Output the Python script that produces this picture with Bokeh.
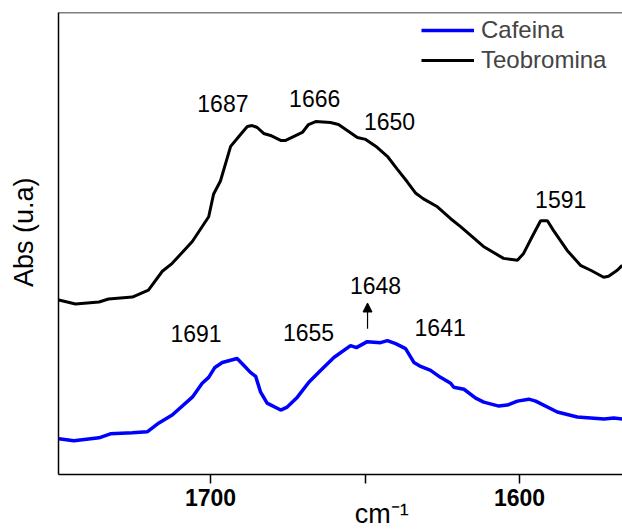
from bokeh.plotting import figure
from bokeh.models import (Range1d, FixedTicker, Span, Legend, LegendItem,
                          Arrow, NormalHead, ColumnDataSource)
from bokeh.core.properties import value
from bokeh.embed import file_html
from bokeh.resources import INLINE

# ---- data ----
teo_wn = [1749.1, 1743.7, 1736.1, 1733.0, 1725.3, 1720.1, 1715.6, 1712.4, 1705.9, 1700.6,
          1699.0, 1696.8, 1693.5, 1690.3, 1688.1, 1686.5, 1684.9, 1682.8, 1680.6, 1677.3,
          1675.7, 1670.3, 1668.3, 1666.0, 1661.2, 1658.6, 1655.3, 1652.5, 1649.8, 1646.1,
          1642.8, 1639.6, 1636.3, 1633.7, 1631.1, 1626.6, 1622.3, 1619.1, 1611.7, 1605.2,
          1600.7, 1598.7, 1595.9, 1593.2, 1591.0, 1589.0, 1584.6, 1580.3, 1577.0, 1572.8,
          1571.2, 1568.4, 1566.8]
teo_abs = [1.76, 1.72, 1.74, 1.77, 1.79, 1.86, 2.05, 2.13, 2.35, 2.60,
           2.83, 2.96, 3.31, 3.43, 3.51, 3.52, 3.50, 3.44, 3.42, 3.37,
           3.37, 3.45, 3.53, 3.56, 3.55, 3.53, 3.46, 3.40, 3.38, 3.30,
           3.21, 3.08, 2.95, 2.84, 2.78, 2.70, 2.58, 2.50, 2.30, 2.18,
           2.16, 2.23, 2.40, 2.56, 2.56, 2.46, 2.26, 2.11, 2.06, 1.99,
           2.00, 2.06, 2.11]

caf_wn = [1749.1, 1744.2, 1736.1, 1732.4, 1725.3, 1720.5, 1716.7, 1712.4, 1705.9, 1702.7,
          1700.6, 1698.6, 1696.2, 1691.4, 1689.2, 1687.1, 1685.4, 1683.8, 1681.7, 1677.3,
          1675.2, 1671.9, 1668.2, 1664.4, 1660.1, 1654.7, 1652.8, 1649.3, 1645.0, 1642.8,
          1640.1, 1636.9, 1634.2, 1632.0, 1628.8, 1625.6, 1622.3, 1621.3, 1618.0, 1614.2,
          1611.6, 1606.7, 1604.0, 1600.7, 1597.0, 1594.8, 1587.8, 1581.3, 1577.0, 1572.7,
          1569.5, 1566.8]
caf_abs = [0.36, 0.34, 0.37, 0.41, 0.42, 0.43, 0.52, 0.60, 0.78, 0.92,
           0.98, 1.08, 1.13, 1.17, 1.10, 1.03, 0.99, 0.83, 0.72, 0.65,
           0.68, 0.78, 0.93, 1.05, 1.18, 1.30, 1.28, 1.34, 1.33, 1.35,
           1.32, 1.27, 1.13, 1.09, 1.05, 0.98, 0.92, 0.88, 0.86, 0.77,
           0.73, 0.69, 0.70, 0.74, 0.76, 0.74, 0.63, 0.58, 0.57, 0.56,
           0.57, 0.56]

peak_labels = ["1687", "1666", "1650", "1591", "1648", "1655", "1641", "1691"]
peak_x = [1696.0, 1666.3, 1642.1, 1586.7, 1646.6, 1668.3, 1625.7, 1704.7]
peak_y = [3.74, 3.79, 3.56, 2.77, 1.91, 1.43, 1.48, 1.42]

arrow_x = 1649.2
arrow_y0 = 1.47
arrow_y1 = 1.73

x_ticks = [1600, 1650, 1700]
x_tick_labels = {1600: "1600", 1650: "", 1700: "1700"}

NB = "\u00a0"
x_title = NB * 11 + "cm\u207b\u00b9"
y_title = NB * 3 + "Abs (u.a)"

FONT = "Liberation Sans"
W, H = 622, 531

p = figure(width=W, height=H, output_backend="svg", toolbar_location=None,
           x_range=Range1d(1749.2, 1566.7), y_range=Range1d(0, 4.66),
           min_border_left=58, min_border_right=0, min_border_top=12, min_border_bottom=53)
p.outline_line_color = None
p.xgrid.visible = False
p.ygrid.visible = False

teo = p.line(teo_wn, teo_abs, line_color="black", line_width=3)
caf = p.line(caf_wn, caf_abs, line_color="#0000ff", line_width=3.5)

src = ColumnDataSource(dict(x=peak_x, y=peak_y, t=peak_labels))
p.text(x="x", y="y", text="t", source=src, text_font=value(FONT), text_font_size="23px",
       text_align="center", text_baseline="middle", text_color="black")

p.add_layout(Arrow(end=NormalHead(size=9, fill_color="black", line_color="black"),
                   x_start=arrow_x, y_start=arrow_y0, x_end=arrow_x, y_end=arrow_y1,
                   line_width=1.2, line_color="black"))

# axes
xa = p.xaxis[0]
xa.ticker = FixedTicker(ticks=x_ticks)
xa.major_label_overrides = x_tick_labels
xa.major_label_text_font = FONT
xa.major_label_text_font_style = "bold"
xa.major_label_text_font_size = "23px"
xa.major_label_text_color = "black"
xa.major_tick_in = 0
xa.major_tick_out = 9
xa.major_tick_line_width = 1.5
xa.minor_tick_line_color = None
xa.axis_line_width = 1.5
xa.major_label_standoff = 5
xa.axis_label = x_title
xa.axis_label_text_font = FONT
xa.axis_label_text_font_style = "normal"
xa.axis_label_text_font_size = "27px"
xa.axis_label_text_color = "black"
xa.axis_label_standoff = -10

ya = p.yaxis[0]
ya.ticker = FixedTicker(ticks=[])
ya.major_tick_line_color = None
ya.minor_tick_line_color = None
ya.axis_line_width = 1.5
ya.axis_label = y_title
ya.axis_label_text_font = FONT
ya.axis_label_text_font_style = "normal"
ya.axis_label_text_font_size = "27px"
ya.axis_label_text_color = "black"
ya.axis_label_standoff = 20

p.add_layout(Span(location=4.66, dimension="width", line_color="black", line_width=1.5))

legend = Legend(items=[LegendItem(label="Cafeina", renderers=[caf]),
                       LegendItem(label="Teobromina", renderers=[teo])],
                location=(363, 399), padding=0, margin=0, spacing=0,
                glyph_width=53, glyph_height=30, label_height=30, label_standoff=7,
                label_text_font=FONT, label_text_font_size="24px",
                border_line_color=None, background_fill_alpha=0)
p.add_layout(legend)

open("out.html", "w").write(file_html(p, INLINE))
